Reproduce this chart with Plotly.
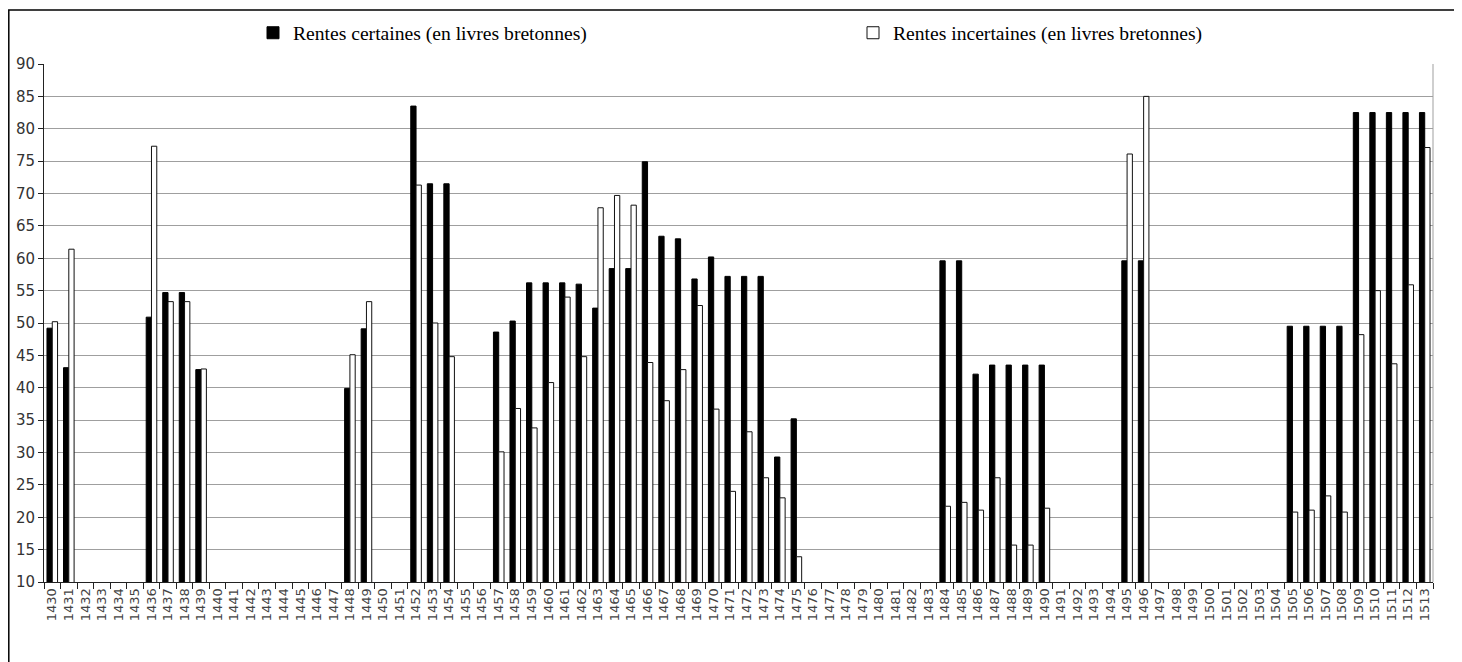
import plotly.graph_objects as go

years = [str(y) for y in range(1430, 1514)]

certaines_known = {
    1430: 49.2, 1431: 43.1, 1436: 50.9, 1437: 54.7, 1438: 54.7, 1439: 42.8,
    1448: 39.9, 1449: 49.1, 1452: 83.5, 1453: 71.5, 1454: 71.5,
    1457: 48.6, 1458: 50.3, 1459: 56.2, 1460: 56.2, 1461: 56.2, 1462: 56.0,
    1463: 52.3, 1464: 58.4, 1465: 58.4, 1466: 74.9, 1467: 63.4, 1468: 63.0,
    1469: 56.8, 1470: 60.2, 1471: 57.2, 1472: 57.2, 1473: 57.2, 1474: 29.3,
    1475: 35.2, 1484: 59.6, 1485: 59.6, 1486: 42.1, 1487: 43.5, 1488: 43.5,
    1489: 43.5, 1490: 43.5, 1495: 59.6, 1496: 59.6,
    1505: 49.5, 1506: 49.5, 1507: 49.5, 1508: 49.5, 1509: 82.5, 1510: 82.5,
    1511: 82.5, 1512: 82.5, 1513: 82.5,
}
incertaines_known = {
    1430: 50.2, 1431: 61.4, 1436: 77.3, 1437: 53.3, 1438: 53.3, 1439: 42.9,
    1448: 45.1, 1449: 53.3, 1452: 71.3, 1453: 50.0, 1454: 44.8,
    1457: 30.1, 1458: 36.8, 1459: 33.8, 1460: 40.8, 1461: 54.0, 1462: 44.8,
    1463: 67.8, 1464: 69.7, 1465: 68.2, 1466: 43.9, 1467: 38.0, 1468: 42.8,
    1469: 52.7, 1470: 36.7, 1471: 24.0, 1472: 33.2, 1473: 26.1, 1474: 23.0,
    1475: 13.9, 1484: 21.7, 1485: 22.3, 1486: 21.1, 1487: 26.1, 1488: 15.7,
    1489: 15.7, 1490: 21.4, 1495: 76.1, 1496: 85.0,
    1505: 20.8, 1506: 21.1, 1507: 23.3, 1508: 20.8, 1509: 48.2, 1510: 55.0,
    1511: 43.7, 1512: 55.9, 1513: 77.1,
}
certaines = [certaines_known.get(int(y)) for y in years]
incertaines = [incertaines_known.get(int(y)) for y in years]

y_ticks = list(range(10, 95, 5))

fig = go.Figure()
fig.add_trace(go.Bar(
    x=years, y=certaines, name="Rentes certaines (en livres bretonnes)",
    marker=dict(color="black", line=dict(color="black", width=1)),
))
fig.add_trace(go.Bar(
    x=years, y=incertaines, name="Rentes incertaines (en livres bretonnes)",
    marker=dict(color="white", line=dict(color="#111111", width=1)),
))

W, H = 1462, 662
L, T = 36, 56
R = W - 1425
B = H - 574
pw, ph = W - L - R, H - T - B

def px_x(p):
    return (p - L) / pw

def px_y(p):
    return (H - B - p) / ph

fig.update_layout(
    width=W, height=H,
    margin=dict(l=L, r=R, t=T, b=B, autoexpand=False),
    paper_bgcolor="white", plot_bgcolor="white",
    barmode="group", bargap=0.36, bargroupgap=0.0,
    showlegend=True,
    legend=dict(
        orientation="h", x=px_x(245), xanchor="left", y=px_y(25), yanchor="middle",
        font=dict(family="Liberation Serif", size=19.6, color="black"),
        entrywidth=555, entrywidthmode="pixels", traceorder="normal",
        bgcolor="rgba(0,0,0,0)",
    ),
    xaxis=dict(
        type="category", tickangle=-90, tickson="boundaries",
        tickmode="array", tickvals=years, ticktext=years,
        ticks="outside", ticklen=6, tickcolor="#222", showline=True,
        linecolor="#222", linewidth=1, showgrid=False,
        tickfont=dict(family="DejaVu Sans", size=13, color="#444"),
    ),
    yaxis=dict(
        range=[10, 90], tickvals=y_ticks, ticks="outside", ticklen=5,
        tickcolor="#222", showline=True, linecolor="#222", linewidth=1,
        showgrid=True, gridcolor="#9f9f9f", gridwidth=1, zeroline=False,
        tickfont=dict(family="DejaVu Sans", size=15, color="#333"),
    ),
    shapes=[
        dict(type="line", xref="paper", yref="paper", x0=1, x1=1, y0=0, y1=1,
             line=dict(color="#9f9f9f", width=1)),
        dict(type="rect", xref="paper", yref="paper",
             x0=px_x(0.8), x1=px_x(1449), y0=px_y(2), y1=px_y(700),
             line=dict(color="black", width=1.5), fillcolor="rgba(0,0,0,0)"),
    ],
)

fig.write_html("out.html")
